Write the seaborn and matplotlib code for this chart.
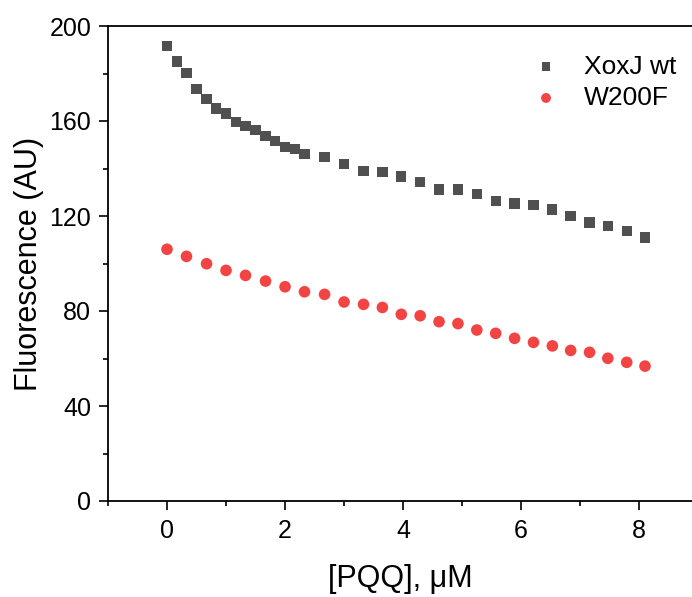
import matplotlib
matplotlib.use("Agg")
import matplotlib.pyplot as plt
import seaborn as sns
import pandas as pd
from matplotlib.ticker import MultipleLocator

sns.set_style("ticks")
plt.rcParams['font.family'] = ['Liberation Sans', 'DejaVu Sans']
plt.rcParams['text.color'] = 'black'
plt.rcParams['axes.labelcolor'] = 'black'
plt.rcParams['xtick.color'] = 'black'
plt.rcParams['ytick.color'] = 'black'

series_names = ["XoxJ wt", "W200F"]

xoxj_x = [0, 0.17, 0.33, 0.5, 0.67, 0.83, 1.0, 1.17, 1.33, 1.5, 1.67, 1.83, 2.0, 2.17, 2.33,
          2.67, 3.0, 3.33, 3.65, 3.97, 4.29, 4.61, 4.93, 5.25, 5.57, 5.89, 6.21, 6.53, 6.84,
          7.16, 7.47, 7.79, 8.1]
xoxj_y = [191.6, 185.1, 180.1, 173.6, 169.3, 165.3, 163.2, 159.6, 158.0, 156.2, 153.8, 151.6,
          149.1, 148.1, 146.2, 144.7, 141.9, 139.0, 138.4, 136.6, 134.3, 131.2, 131.2, 129.4,
          126.4, 125.3, 124.5, 122.7, 120.0, 117.3, 115.8, 113.8, 110.9]

w200f_x = [0, 0.33, 0.67, 1.0, 1.33, 1.67, 2.0, 2.33, 2.67, 3.0, 3.33, 3.65, 3.97, 4.29, 4.61,
           4.93, 5.25, 5.57, 5.89, 6.21, 6.53, 6.84, 7.16, 7.47, 7.79, 8.1]
w200f_y = [106.0, 103.0, 99.9, 97.1, 95.0, 92.6, 90.2, 88.1, 87.0, 83.8, 82.8, 81.5, 78.6,
           78.0, 75.5, 74.7, 72.0, 70.6, 68.5, 66.8, 65.3, 63.4, 62.6, 60.1, 58.4, 56.8]

x_ticks = [0, 2, 4, 6, 8]
y_ticks = [0, 40, 80, 120, 160, 200]

df = pd.concat([
    pd.DataFrame({"x": xoxj_x, "y": xoxj_y, "series": series_names[0]}),
    pd.DataFrame({"x": w200f_x, "y": w200f_y, "series": series_names[1]}),
])

fig = plt.figure(figsize=(6.92, 5.97), dpi=100)
ax = fig.add_axes([108/692, 1 - 501/597, 1 - 108/692 + 0.002, (501 - 26)/597])

sns.scatterplot(data=df[df.series == series_names[0]], x="x", y="y", ax=ax,
                marker="s", s=55, color="#505050", edgecolor="none", linewidth=0,
                label=series_names[0])
sns.scatterplot(data=df[df.series == series_names[1]], x="x", y="y", ax=ax,
                marker="o", s=70, color="#f34444", edgecolor="none", linewidth=0,
                label=series_names[1])

ax.set_xlim(-1, 8.92)
ax.set_ylim(0, 200)
ax.set_xticks(x_ticks)
ax.set_yticks(y_ticks)
ax.xaxis.set_minor_locator(MultipleLocator(1))
ax.yaxis.set_minor_locator(MultipleLocator(20))
ax.tick_params(axis="both", which="major", direction="out", length=6.5, width=1.2,
               labelsize=18, colors="black", top=False, right=False)
ax.tick_params(axis="both", which="minor", direction="out", length=3.5, width=1.2,
               colors="black", top=False, right=False)
ax.tick_params(axis="x", which="major", pad=6.5)
ax.tick_params(axis="y", which="major", pad=5.5)
for side in ["left", "bottom", "top"]:
    ax.spines[side].set_visible(True)
    ax.spines[side].set_linewidth(1.3)
    ax.spines[side].set_color("black")
ax.spines["right"].set_visible(False)

ax.set_xlabel("[PQQ], μM", fontsize=22, labelpad=15, color="black")
ax.set_ylabel("Fluorescence (AU)", fontsize=22, labelpad=4, color="black")

leg = ax.legend(loc="upper left", bbox_to_anchor=(0.7257, 0.94), frameon=False,
                fontsize=19, handlelength=1.0, handletextpad=0.94, labelspacing=0.28,
                borderpad=0, borderaxespad=0, markerscale=0.85)
for t in leg.get_texts():
    t.set_color("black")

fig.savefig("out.png", dpi=100)
